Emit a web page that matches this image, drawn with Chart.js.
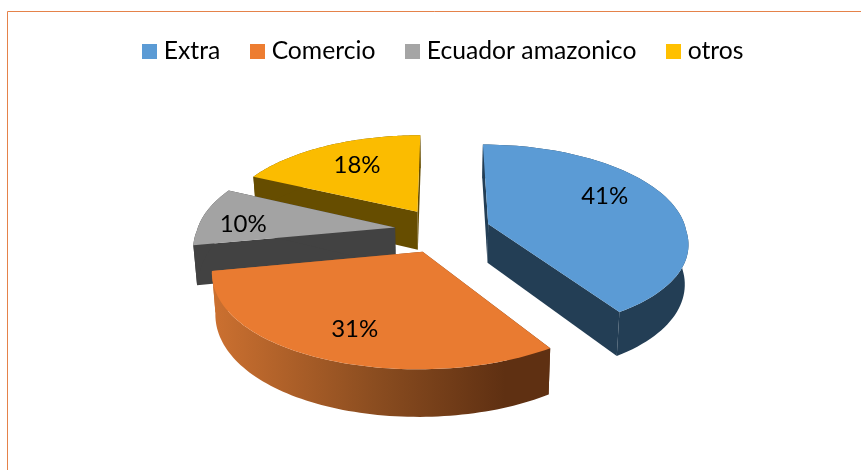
<!DOCTYPE html>
<html>
<head>
<meta charset="utf-8">
<style>html,body{margin:0;padding:0;background:#fff}canvas{display:block}</style>
<script src="https://cdn.jsdelivr.net/npm/chart.js@4"></script>
</head>
<body>
<canvas id="c" width="861" height="470"></canvas>
<script>
const categories = ['Extra', 'Comercio', 'Ecuador amazonico', 'otros'];
const shares = [41, 31, 10, 18];
const legendColors = ['#5B9BD5', '#ED7D31', '#A5A5A5', '#FFC000'];
const topColors = ['#5B9BD5', '#E97B31', '#A3A3A3', '#FBBC00'];
const wallColors = ['#233E55', null, '#424242', '#664D00'];
const labelNudges = [[-11, -11], [0, 7], [-17, 5], [5, 1]];

const FX_FRONT = 1100, FX_BACK = 1500, FY = 1337, K = 0.47, DEPTH = 39, SHRINK = 0.985, SHIFT_X = -3;
const FONT = '24px Lato';

function project(arc, X, Y) {
  const fx = Y > 0 ? FX_FRONT : FX_BACK;
  return [arc.x + SHIFT_X + X / (1 - Y / fx), arc.y + K * Y / (1 - Y / FY)];
}
function drop(arc, p, Y) {
  const cx = arc.x + SHIFT_X;
  return [cx + (p[0] - cx) * SHRINK, p[1] + DEPTH / (1 - Y / FY)];
}
function slicePoints(arc) {
  const mid = (arc.startAngle + arc.endAngle) / 2;
  const off = arc.options.offset;
  const ox = off * Math.cos(mid), oy = off * Math.sin(mid);
  const arcPts = [];
  const n = 80;
  for (let i = 0; i <= n; i++) {
    const a = arc.startAngle + (arc.endAngle - arc.startAngle) * i / n;
    const X = ox + arc.outerRadius * Math.cos(a), Y = oy + arc.outerRadius * Math.sin(a);
    const p = project(arc, X, Y);
    arcPts.push({p, b: drop(arc, p, Y)});
  }
  const ap = project(arc, ox, oy);
  return {apex: {p: ap, b: drop(arc, ap, oy)}, arcPts, mid, ox, oy};
}
function poly(ctx, pts, fill) {
  ctx.beginPath();
  pts.forEach((p, i) => i ? ctx.lineTo(p[0], p[1]) : ctx.moveTo(p[0], p[1]));
  ctx.closePath();
  ctx.fillStyle = fill;
  ctx.fill();
}

const pie3d = {
  id: 'pie3d',
  beforeDraw(chart) {
    const ctx = chart.ctx;
    ctx.save();
    ctx.fillStyle = '#fff';
    ctx.fillRect(0, 0, chart.width, chart.height);
    ctx.strokeStyle = '#E5824A';
    ctx.lineWidth = 1;
    ctx.beginPath();
    ctx.moveTo(7.5, chart.height);
    ctx.lineTo(7.5, 11.5);
    ctx.lineTo(chart.width, 11.5);
    ctx.stroke();
    ctx.restore();
  },
  beforeDatasetDraw() { return false; },
  afterDatasetsDraw(chart) {
    const ctx = chart.ctx;
    const meta = chart.getDatasetMeta(0);
    const order = meta.data.map((arc, i) => ({arc, i, g: slicePoints(arc)}))
      .sort((a, b) => Math.sin(a.g.mid) - Math.sin(b.g.mid));
    ctx.save();
    order.forEach(({arc, i, g}) => {
      let wall = wallColors[i];
      if (!wall) {
        wall = ctx.createLinearGradient(215, 0, 505, 0);
        wall.addColorStop(0, '#CB7030');
        wall.addColorStop(0.55, '#8B4D20');
        wall.addColorStop(1, '#5F3012');
      }
      const first = g.arcPts[0], last = g.arcPts[g.arcPts.length - 1];
      poly(ctx, [g.apex.p, first.p, first.b, g.apex.b], wall);
      poly(ctx, [g.apex.p, last.p, last.b, g.apex.b], wall);
      poly(ctx, g.arcPts.map(q => q.p).concat(g.arcPts.slice().reverse().map(q => q.b)), wall);
      poly(ctx, [g.apex.p].concat(g.arcPts.map(q => q.p)), topColors[i]);
    });
    ctx.font = FONT;
    ctx.fillStyle = '#000';
    ctx.textAlign = 'center';
    ctx.textBaseline = 'middle';
    order.forEach(({arc, i, g}) => {
      const rho = arc.outerRadius * 0.7;
      const p = project(arc, g.ox + rho * Math.cos(g.mid), g.oy + rho * Math.sin(g.mid));
      ctx.fillText(shares[i] + '%', p[0] + labelNudges[i][0], p[1] + labelNudges[i][1]);
    });
    ctx.restore();
  }
};

function swatch(color) {
  const s = document.createElement('canvas');
  s.width = 15; s.height = 15;
  const g = s.getContext('2d');
  g.fillStyle = color;
  g.fillRect(0, 0, 15, 15);
  return s;
}

new Chart(document.getElementById('c'), {
  type: 'pie',
  data: {
    labels: categories,
    datasets: [{
      data: shares,
      backgroundColor: legendColors,
      offset: 48,
      borderWidth: 0,
      radius: 198
    }]
  },
  options: {
    responsive: false,
    animation: false,
    layout: {padding: {left: 30, top: 4, bottom: 83, right: 0}},
    plugins: {
      tooltip: {enabled: false},
      legend: {
        position: 'top',
        onClick: null,
        labels: {
          font: {family: 'Lato', size: 24.7},
          color: '#000',
          usePointStyle: true,
          boxWidth: 4,
          boxHeight: 15,
          padding: 35,
          generateLabels: () => categories.map((t, i) => ({
            text: t, pointStyle: swatch(legendColors[i]), fontColor: '#000', hidden: false, index: i, lineWidth: 0
          }))
        }
      }
    }
  },
  plugins: [pie3d]
});
</script>
</body>
</html>
